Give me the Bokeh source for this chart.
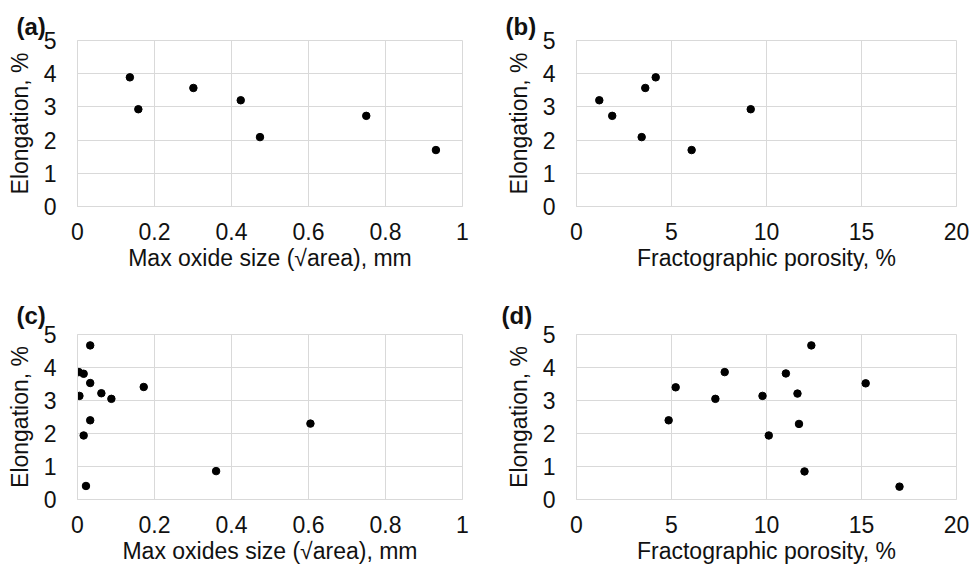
from bokeh.plotting import figure
from bokeh.layouts import column, row
from bokeh.models import FixedTicker, NumeralTickFormatter, Title
from bokeh.embed import file_html
from bokeh.resources import INLINE

# ---- data ----
oxide_a = [0.136, 0.158, 0.301, 0.424, 0.474, 0.750, 0.931]
elong_a = [3.89, 2.93, 3.57, 3.20, 2.09, 2.73, 1.70]

poro_b = [4.17, 9.17, 3.62, 1.20, 3.43, 1.88, 6.06]
elong_b = [3.89, 2.93, 3.57, 3.20, 2.09, 2.73, 1.70]

oxide_c = [0.033, 0.0035, 0.016, 0.033, 0.005, 0.062, 0.088, 0.172, 0.033, 0.016, 0.022, 0.360, 0.605]
elong_c = [4.67, 3.86, 3.81, 3.53, 3.14, 3.22, 3.05, 3.41, 2.40, 1.94, 0.41, 0.86, 2.30]

poro_d = [12.36, 7.80, 11.02, 15.22, 5.22, 11.63, 9.79, 7.31, 4.85, 11.71, 10.12, 12.00, 17.00]
elong_d = [4.67, 3.86, 3.82, 3.52, 3.40, 3.21, 3.14, 3.05, 2.40, 2.29, 1.94, 0.85, 0.39]

oxide_ticks = [0, 0.2, 0.4, 0.6, 0.8, 1]
poro_ticks = [0, 5, 10, 15, 20]
elong_ticks = [0, 1, 2, 3, 4, 5]

panel_labels = ["(a)", "(b)", "(c)", "(d)"]
x_titles = ["Max oxide size (\u221aarea), mm", "Fractographic porosity, %",
            "Max oxides size (\u221aarea), mm", "Fractographic porosity, %"]
y_title = "Elongation, %"

FONT = "Liberation Sans"
TXT = "#111111"
GRID = "#d9d9d9"
FS = "23px"


def make(xs, ys, xmax, xticks, xfmt, xtitle, plabel, w, h, bl, br, bt, bb, loff, lstand):
    p = figure(width=w, height=h, x_range=(0, xmax), y_range=(0, 5),
               output_backend="svg", toolbar_location=None,
               min_border_left=bl, min_border_right=br,
               min_border_top=bt, min_border_bottom=bb)
    p.scatter(xs, ys, size=7.5, color="black")
    p.xaxis.ticker = FixedTicker(ticks=xticks)
    p.yaxis.ticker = FixedTicker(ticks=elong_ticks)
    if xfmt:
        p.xaxis.formatter = NumeralTickFormatter(format="0.[0]")
    for ax in (p.xaxis[0], p.yaxis[0]):
        ax.axis_line_color = GRID
        ax.major_tick_line_color = None
        ax.minor_tick_line_color = None
        ax.major_label_text_font = FONT
        ax.major_label_text_font_size = FS
        ax.major_label_text_color = TXT
        ax.axis_label_text_font = FONT
        ax.axis_label_text_font_size = FS
        ax.axis_label_text_font_style = "normal"
        ax.axis_label_text_color = TXT
    p.xaxis.axis_label = xtitle
    p.yaxis.axis_label = y_title
    p.xaxis.major_label_standoff = 10
    p.xaxis.axis_label_standoff = 2
    p.yaxis.major_label_standoff = 15
    p.yaxis.axis_label_standoff = 8
    p.xgrid.grid_line_color = GRID
    p.ygrid.grid_line_color = GRID
    p.outline_line_color = GRID
    p.background_fill_color = "white"
    p.border_fill_color = "white"
    p.title = Title(text=plabel, align="left", offset=loff, standoff=lstand,
                    text_font=FONT, text_font_size="24px", text_font_style="bold",
                    text_color=TXT)
    return p


pa = make(oxide_a, elong_a, 1, oxide_ticks, True, x_titles[0], panel_labels[0],
          488, 286, 77, 26, 40, 80, -61, 2)
pb = make(poro_b, elong_b, 20, poro_ticks, False, x_titles[1], panel_labels[1],
          482, 286, 88, 14, 40, 80, -71, 2)
pc = make(oxide_c, elong_c, 1, oxide_ticks, True, x_titles[2], panel_labels[2],
          488, 286, 77, 26, 48, 73, -61, 11)
pd_ = make(poro_d, elong_d, 20, poro_ticks, False, x_titles[3], panel_labels[3],
           482, 286, 88, 14, 48, 73, -75, 11)

layout = column(row(pa, pb, spacing=0), row(pc, pd_, spacing=0), spacing=0)

open("out.html", "w").write(file_html(layout, INLINE))
